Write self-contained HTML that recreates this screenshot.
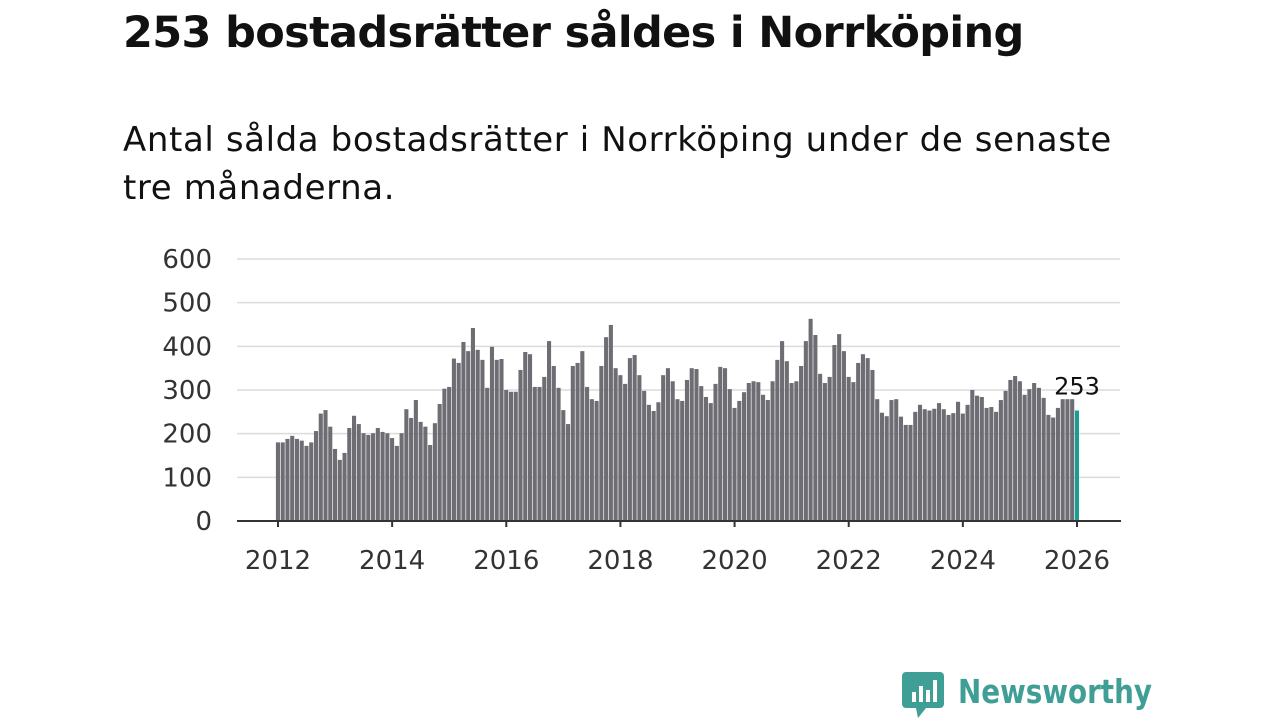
<!DOCTYPE html>
<html><head><meta charset="utf-8"><style>
body{margin:0;width:1280px;height:720px;background:#fff;font-family:"Liberation Sans","DejaVu Sans",sans-serif;overflow:hidden;position:relative}
h1{position:absolute;left:123px;top:8px;margin:0;font-size:43px;font-weight:bold;color:#111;font-family:"DejaVu Sans","Liberation Sans",sans-serif;letter-spacing:-0.65px}
p{position:absolute;left:123px;top:116px;margin:0;font-size:34px;line-height:48px;color:#111;width:1040px;font-family:"DejaVu Sans","Liberation Sans",sans-serif;font-weight:normal;letter-spacing:0.6px}
svg{position:absolute;left:0;top:0}
</style></head><body>
<h1>253 bostadsrätter såldes i Norrköping</h1>
<p>Antal sålda bostadsrätter i Norrköping under de senaste tre månaderna.</p>
<svg id="c" width="1280" height="720"></svg>
<svg width="1280" height="720" style="pointer-events:none">
<path d="M906 672 h34 a4 4 0 0 1 4 4 v28 a4 4 0 0 1 -4 4 h-14 l-8 10 l-2 -10 h-10 a4 4 0 0 1 -4 -4 v-28 a4 4 0 0 1 4 -4z" fill="#3f9e96"/>
<rect x="912" y="692" width="4" height="10" fill="#fff"/><rect x="919" y="686" width="4" height="16" fill="#fff"/><rect x="926" y="690" width="4" height="12" fill="#fff"/><rect x="933" y="680" width="4" height="22" fill="#fff"/>
<text x="958" y="703" font-size="33" font-weight="bold" fill="#3f9e96" font-family="DejaVu Sans, Liberation Sans, sans-serif" textLength="194" lengthAdjust="spacingAndGlyphs">Newsworthy</text>
</svg>
<script>
const values=[180,180,188,195,188,184,172,180,206,246,254,216,
165,140,156,213,241,222,201,197,201,213,204,201,
190,172,201,256,236,277,227,216,174,224,268,303,
307,372,362,410,389,442,392,369,305,399,369,371,300,296,296,346,387,382,
307,307,330,412,355,305,254,222,355,362,389,307,279,275,355,421,449,350,
334,314,373,380,334,298,266,252,272,334,350,320,
279,275,323,350,348,309,284,270,314,353,350,302,259,275,295,316,320,318,289,277,
320,369,412,366,316,320,355,412,463,426,337,316,330,403,428,389,330,318,362,382,373,346,279,
248,240,277,279,239,220,220,250,266,256,253,257,270,256,243,247,273,246,266,300,
287,284,259,261,250,277,298,323,332,320,289,302,316,305,282,243,237,259,279,279,279,253];
const yTicks=[0,100,200,300,400,500,600];
const xTicks=[2012,2014,2016,2018,2020,2022,2024,2026];
const svg=document.getElementById('c');const NS='http://www.w3.org/2000/svg';
const y0=521,pxPer=262/600,x0=278,mStep=799/168;
const Y=v=>y0-v*pxPer, X=i=>x0+i*mStep;
function mk(t,a){const e=document.createElementNS(NS,t);for(const k in a)e.setAttribute(k,a[k]);svg.appendChild(e);return e;}
yTicks.forEach(v=>{
 if(v>0){const g=mk('line',{x1:237,x2:1120,y1:Y(v),y2:Y(v),stroke:'#dcdcdc','stroke-width':1.5});
 
 }
 const t=mk('text',{x:212,y:Y(v)+9,'text-anchor':'end','font-size':26,fill:'#333','font-family':'DejaVu Sans, Liberation Sans, sans-serif'});t.textContent=v;
 
 
});
values.forEach((v,i)=>{
 const last=i===values.length-1;
 const r=mk('rect',{x:X(i)-2.1,y:Y(v),width:4.1,height:v*pxPer,fill:last?'#1a9e94':'#6e6d73'});
 
 
});
const ax=mk('line',{x1:237,x2:1121,y1:y0,y2:y0,stroke:'#333','stroke-width':2});


xTicks.forEach(yr=>{const x=X((yr-2012)*12);
 const tk=mk('line',{x1:x,x2:x,y1:y0,y2:y0+6,stroke:'#333','stroke-width':2});
 
 
 const t=mk('text',{x:x,y:569,'text-anchor':'middle','font-size':26,fill:'#333','font-family':'DejaVu Sans, Liberation Sans, sans-serif'});t.textContent=yr;
 
 
});
const lv=values[values.length-1];
const lb=mk('text',{x:X(values.length-1),y:Y(lv)-16,'text-anchor':'middle','font-size':24,fill:'#111','font-family':'DejaVu Sans, Liberation Sans, sans-serif'});lb.textContent=lv;


</script>
</body></html>
